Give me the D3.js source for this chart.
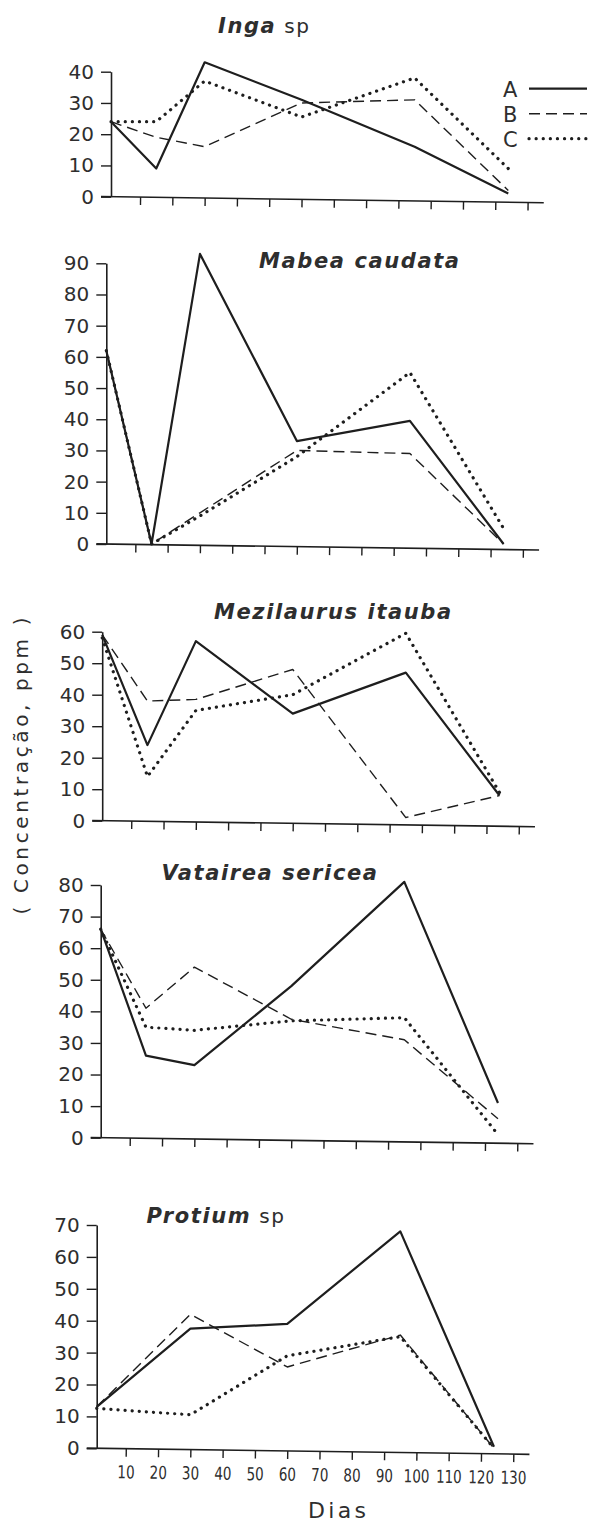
<!DOCTYPE html>
<html>
<head>
<meta charset="utf-8">
<script src="https://cdn.jsdelivr.net/npm/d3@7"></script>
<style>
  html, body { margin: 0; padding: 0; background: #ffffff; }
  svg { display: block; }
  text { font-family: "DejaVu Sans", sans-serif; fill: #2e2e2e; }
</style>
</head>
<body>
<svg id="chart" width="589" height="1522"></svg>
<script>
// ---------------- data ----------------
const days = [1, 15, 30, 60, 95, 124];
const protiumDays = [1, 30, 60, 95, 124];
const xTicks = [10, 20, 30, 40, 50, 60, 70, 80, 90, 100, 110, 120, 130];
const seriesNames = ["A", "B", "C"];

const ingaA = [24, 9, 43, 31, 16, 1];
const ingaB = [24, 19, 16, 30, 31, 2];
const ingaC = [24, 24, 37, 25.5, 38, 9];

const mabeaA = [62, 0, 93, 33, 39.5, 0];
const mabeaB = [62, 0, 10, 30, 29, 0];
const mabeaC = [62, 0, 9, 28, 55, 5];

const mezilA = [59, 24, 57, 34, 47, 8];
const mezilB = [59, 38, 38.5, 48, 1, 8];
const mezilC = [58, 14, 35, 40, 59.5, 9];

const vataA = [66, 26, 23, 48, 81, 11];
const vataB = [66, 41, 54, 37.5, 31, 6];
const vataC = [66, 35, 34, 37, 38, 1];

const protA = [13, 37.5, 39, 68, 0.5];
const protB = [13, 42, 25.5, 35.5, 0];
const protC = [12.5, 10.5, 29, 35, 0];

const yMaxes = [40, 90, 60, 80, 70];
const titlesItalic = ["Inga", "Mabea caudata", "Mezilaurus itauba", "Vatairea sericea", "Protium"];
const titlesPlain = [" sp", "", "", "", " sp"];
const yAxisLabel = "( Concentração, ppm )";
const xAxisLabel = "Dias";

// ---------------- layout (not data) ----------------
const layout = [
  { ax: 111, y0: 196.7, yTop: 71.7,  tx: 218, ty: 33 },
  { ax: 106.3, y0: 544, yTop: 263.3, tx: 259, ty: 268.3 },
  { ax: 102.2, y0: 820.7, yTop: 631.7, tx: 214, ty: 619.3 },
  { ax: 100.7, y0: 1137.7, yTop: 885, tx: 161.5, ty: 880 },
  { ax: 96.7, y0: 1448.3, yTop: 1225, tx: 146.5, ty: 1223.3 }
];
const panelData = [
  { d: days, s: [ingaA, ingaB, ingaC] },
  { d: days, s: [mabeaA, mabeaB, mabeaC] },
  { d: days, s: [mezilA, mezilB, mezilC] },
  { d: days, s: [vataA, vataB, vataC] },
  { d: protiumDays, s: [protA, protB, protC] }
];
const lineStyles = [
  { w: 2.2, dash: null, cap: "butt" },
  { w: 1.4, dash: "11 6", cap: "butt" },
  { w: 3.2, dash: "0.1 7", cap: "round" }
];
const ink = "#1e1e1e";

const svg = d3.select("#chart");

layout.forEach((L, i) => {
  const g = svg.append("g");
  const x = d3.scaleLinear().domain([0, 135]).range([L.ax - 3.2, L.ax - 3.2 + 436]);
  const y = d3.scaleLinear().domain([0, yMaxes[i]]).range([L.y0, L.yTop]);

  // y axis
  const yAxis = d3.axisLeft(y)
    .tickValues(d3.range(0, yMaxes[i] + 1, 10))
    .tickSize(10).tickSizeOuter(0).tickPadding(7);
  const yg = g.append("g").attr("transform", `translate(${L.ax},0)`).call(yAxis);
  yg.select(".domain").attr("stroke", ink).attr("stroke-width", 1.6);
  yg.selectAll(".tick line").attr("stroke", ink).attr("stroke-width", 1.4);
  yg.selectAll(".tick text")
    .style("font-family", "DejaVu Sans, sans-serif")
    .style("font-size", "20px").attr("fill", "#333");

  // x axis (slightly skewed like the scan)
  const xAxis = d3.axisBottom(x).tickValues(xTicks).tickSize(8).tickSizeOuter(0);
  const xg = g.append("g")
    .attr("transform", `translate(0,${L.y0}) rotate(0.8 ${L.ax} 0)`)
    .call(xAxis);
  xg.select(".domain").attr("stroke", ink).attr("stroke-width", 1.6)
    .attr("d", `M${L.ax - 10},0H${x(135)}`);
  xg.selectAll(".tick line").attr("stroke", ink).attr("stroke-width", 1.4);
  if (i === layout.length - 1) {
    xg.selectAll(".tick text")
      .attr("y", 17).attr("dy", "0.71em")
      .style("font-family", "DejaVu Sans, sans-serif")
      .style("font-size", "18px").attr("fill", "#333")
      .attr("textLength", d => String(d).length * 8.6)
      .attr("lengthAdjust", "spacingAndGlyphs");
  } else {
    xg.selectAll(".tick text").remove();
  }

  // lines
  const pd = panelData[i];
  pd.s.forEach((vals, k) => {
    const line = d3.line().x((v, j) => x(pd.d[j])).y(v => y(v));
    const st = lineStyles[k];
    g.append("path")
      .datum(vals)
      .attr("d", line)
      .attr("fill", "none")
      .attr("stroke", ink)
      .attr("stroke-width", st.w)
      .attr("stroke-linejoin", "round")
      .attr("stroke-linecap", st.cap)
      .attr("stroke-dasharray", st.dash);
  });

  // title
  const t = g.append("text").attr("x", L.tx).attr("y", L.ty)
    .style("font-size", "21px").style("letter-spacing", "1.6px");
  t.append("tspan").text(titlesItalic[i])
    .style("font-weight", "bold").style("font-style", "italic");
  if (titlesPlain[i]) {
    t.append("tspan").text(titlesPlain[i]).style("font-weight", "normal").style("font-size", "20px");
  }
});

// legend
const legY = [96.7, 121.7, 146.7];
seriesNames.forEach((n, k) => {
  svg.append("text").attr("x", 503).attr("y", legY[k])
    .style("font-size", "21px").attr("fill", "#333").text(n);
  const st = lineStyles[k];
  svg.append("line")
    .attr("x1", 529).attr("x2", 587)
    .attr("y1", legY[k] - 8).attr("y2", legY[k] - 8)
    .attr("stroke", ink).attr("stroke-width", st.w)
    .attr("stroke-linecap", st.cap)
    .attr("stroke-dasharray", st.dash);
});

// axis titles
svg.append("text")
  .attr("transform", "translate(28,766) rotate(-90)")
  .attr("text-anchor", "middle")
  .style("font-size", "20px")
  .attr("textLength", 297).attr("lengthAdjust", "spacing")
  .text(yAxisLabel);

svg.append("text")
  .attr("x", 308).attr("y", 1518)
  .style("font-size", "22px")
  .attr("textLength", 58).attr("lengthAdjust", "spacing")
  .text(xAxisLabel);
</script>
</body>
</html>
